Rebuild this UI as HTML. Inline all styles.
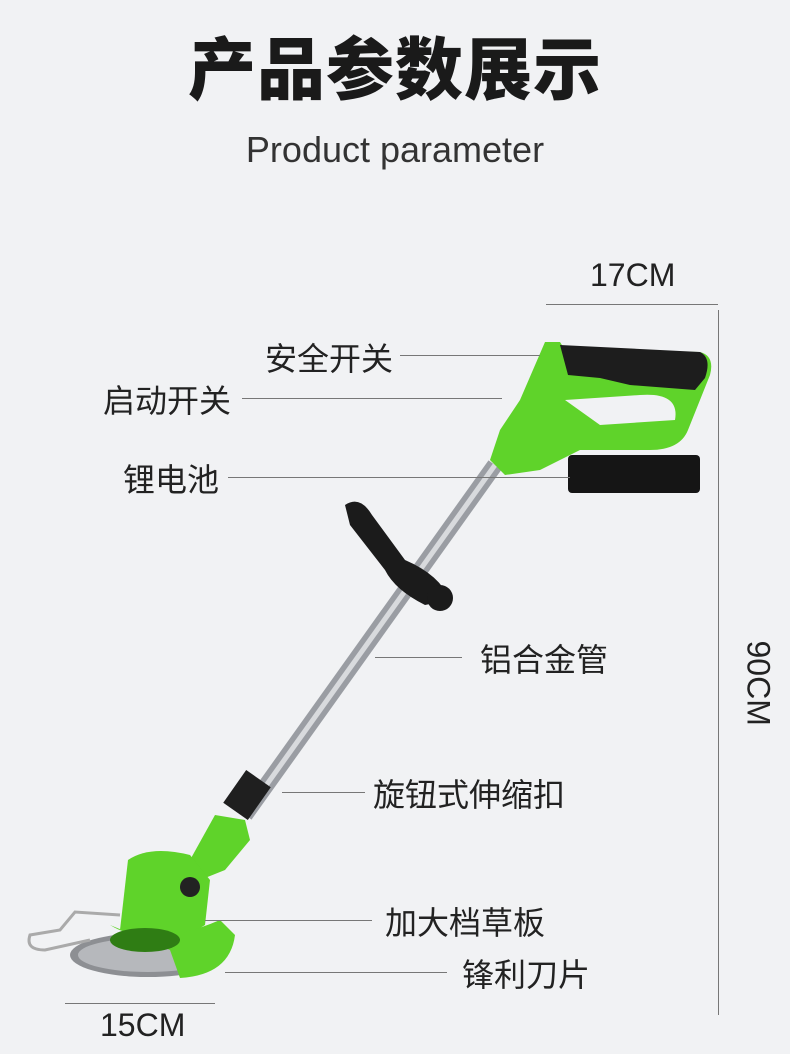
<!DOCTYPE html>
<html><head><meta charset="utf-8"><style>
html,body{margin:0;padding:0}
body{width:790px;height:1054px;background:#f1f2f4;position:relative;overflow:hidden;font-family:"Liberation Sans","Noto Sans CJK SC",sans-serif;color:#222}
.t{position:absolute;white-space:nowrap}
.l{position:absolute;height:1px;background:#777}
</style></head><body>
<div class="t" style="left:0;width:790px;text-align:center;top:15px;font-size:68px;font-weight:900;letter-spacing:1px;color:#1a1a1a">产品参数展示</div>
<div class="t" style="left:0;width:790px;text-align:center;top:129px;font-size:36px;color:#333">Product parameter</div>

<svg style="position:absolute;left:0;top:0" width="790" height="1054">
 <line x1="495" y1="465" x2="245" y2="815" stroke="#9a9da3" stroke-width="16"/>
 <line x1="495" y1="465" x2="245" y2="815" stroke="#d8dadd" stroke-width="5"/>
 <path d="M345 505 Q360 495 372 515 L405 560 Q440 575 450 600 L425 605 Q395 590 385 570 L350 525 Z" fill="#1b1b1b"/>
 <circle cx="440" cy="598" r="13" fill="#1b1b1b"/>
 <rect x="232" y="775" width="30" height="40" fill="#1f1f1f" transform="rotate(35 247 795)"/>
 <rect x="568" y="455" width="132" height="38" rx="4" fill="#151515"/>
 <path d="M545 342 L560 342 L565 350 L700 352 Q715 356 710 375 L688 430 Q680 450 650 450 L580 450 L540 470 L505 475 L490 460 L500 430 L520 400 Z" fill="#5fd32a"/>
 <path d="M560 345 L700 352 Q712 358 705 378 L695 390 L630 385 L600 378 L568 375 Z" fill="#1d1d1d"/>
 <path d="M565 400 L640 395 Q680 392 675 420 L600 425 Z" fill="#f1f2f4"/>
 <path d="M215 815 L245 820 L250 840 L225 870 L200 880 L190 860 Z" fill="#5fd32a"/>
 <path d="M128 860 Q150 845 190 855 L210 880 L205 925 L180 940 L120 930 Z" fill="#5fd32a"/>
 <circle cx="190" cy="887" r="10" fill="#222"/>
 <ellipse cx="148" cy="955" rx="78" ry="22" fill="#8d8f93"/>
 <ellipse cx="148" cy="955" rx="70" ry="17" fill="#b6b8bc"/>
 <path d="M110 925 Q150 950 220 920 L235 935 Q230 975 180 978 L170 950 Z" fill="#5fd32a"/>
 <ellipse cx="145" cy="940" rx="35" ry="12" fill="#2f7d14"/>
 <path d="M120 915 L75 912 L60 930 L30 935 Q25 950 45 950 L90 940" fill="none" stroke="#aaa" stroke-width="3"/>
</svg>

<div class="t" style="left:590px;top:257px;font-size:32px">17CM</div>
<div class="l" style="left:546px;top:304px;width:172px"></div>
<div class="l" style="left:718px;top:310px;width:1px;height:705px"></div>
<div class="t" style="left:718px;top:662px;font-size:32px;transform:rotate(90deg);transform-origin:center;width:80px;text-align:center">90CM</div>
<div class="t" style="left:100px;top:1007px;font-size:32px">15CM</div>
<div class="l" style="left:65px;top:1003px;width:150px"></div>

<div class="t" style="left:265px;top:334px;font-size:32px">安全开关</div>
<div class="l" style="left:400px;top:355px;width:140px"></div>
<div class="t" style="left:103px;top:376px;font-size:32px">启动开关</div>
<div class="l" style="left:242px;top:398px;width:260px"></div>
<div class="t" style="left:123px;top:455px;font-size:32px">锂电池</div>
<div class="l" style="left:228px;top:477px;width:342px"></div>
<div class="t" style="left:480px;top:635px;font-size:32px">铝合金管</div>
<div class="l" style="left:375px;top:657px;width:87px"></div>
<div class="t" style="left:373px;top:770px;font-size:32px">旋钮式伸缩扣</div>
<div class="l" style="left:282px;top:792px;width:83px"></div>
<div class="t" style="left:385px;top:898px;font-size:32px">加大档草板</div>
<div class="l" style="left:205px;top:920px;width:167px"></div>
<div class="t" style="left:462px;top:950px;font-size:32px">锋利刀片</div>
<div class="l" style="left:225px;top:972px;width:222px"></div>
</body></html>
